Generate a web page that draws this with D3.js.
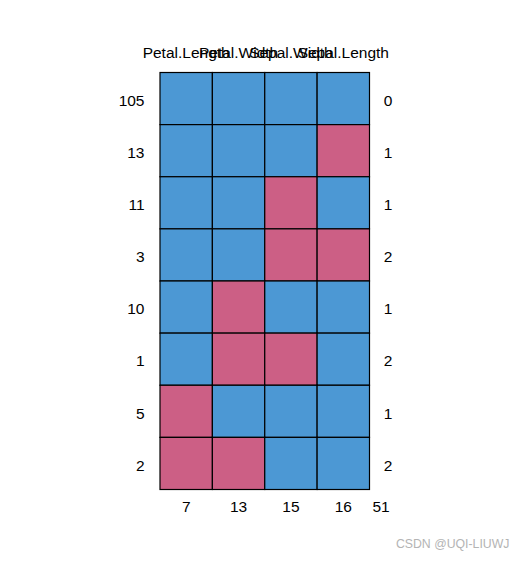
<!DOCTYPE html>
<html>
<head>
<meta charset="utf-8">
<script src="https://cdn.jsdelivr.net/npm/d3@7"></script>
<style>
  html, body { margin: 0; padding: 0; background: #fff; }
  svg { display: block; }
  text { font-family: "Liberation Sans", Arial, sans-serif; }
</style>
</head>
<body>
<svg id="chart" width="530" height="562"></svg>
<script>
// Missing-data pattern of the iris variables
const variables = ["Petal.Length", "Petal.Width", "Sepal.Width", "Sepal.Length"];
const rowCounts = [105, 13, 11, 3, 10, 1, 5, 2];
// 1 = observed, 0 = missing
const patterns = [
  [1, 1, 1, 1],
  [1, 1, 1, 0],
  [1, 1, 0, 1],
  [1, 1, 0, 0],
  [1, 0, 1, 1],
  [1, 0, 0, 1],
  [0, 1, 1, 1],
  [0, 0, 1, 1]
];
const rowMissing = [0, 1, 1, 2, 1, 2, 1, 2];
const colMissing = [7, 13, 15, 16];
const totalMissing = 51;

const svg = d3.select("#chart");
const fontSize = "15.5px";

const x = d3.scaleBand().domain(d3.range(variables.length)).range([160, 369.5]);
const y = d3.scaleBand().domain(d3.range(rowCounts.length)).range([72.5, 489.5]);

const color = v => v === 1 ? "#4c98d4" : "#cc5f85";

// cells
const cells = [];
patterns.forEach((row, i) => row.forEach((v, j) => cells.push({ i, j, v })));
svg.append("g").selectAll("rect").data(cells).join("rect")
  .attr("x", d => x(d.j))
  .attr("y", d => y(d.i))
  .attr("width", x.bandwidth())
  .attr("height", y.bandwidth())
  .attr("fill", d => color(d.v))
  .attr("stroke", "#000")
  .attr("stroke-width", 1.2);

// variable names on top
svg.append("g").selectAll("text").data(variables).join("text")
  .attr("x", (d, j) => x(j) + x.bandwidth() / 2)
  .attr("y", 57.7)
  .attr("text-anchor", "middle")
  .style("font-size", fontSize)
  .text(d => d);

// pattern frequencies on the left
svg.append("g").selectAll("text").data(rowCounts).join("text")
  .attr("x", 144.5)
  .attr("y", (d, i) => y(i) + y.bandwidth() / 2 + 7.3)
  .attr("text-anchor", "end")
  .style("font-size", fontSize)
  .text(d => d);

// number of missing variables per pattern on the right
svg.append("g").selectAll("text").data(rowMissing).join("text")
  .attr("x", 383.8)
  .attr("y", (d, i) => y(i) + y.bandwidth() / 2 + 7.3)
  .attr("text-anchor", "start")
  .style("font-size", fontSize)
  .text(d => d);

// missing counts per variable at the bottom
svg.append("g").selectAll("text").data(colMissing).join("text")
  .attr("x", (d, j) => x(j) + x.bandwidth() / 2)
  .attr("y", 511.7)
  .attr("text-anchor", "middle")
  .style("font-size", fontSize)
  .text(d => d);

svg.append("text")
  .attr("x", 381)
  .attr("y", 511.7)
  .attr("text-anchor", "middle")
  .style("font-size", fontSize)
  .text(totalMissing);

// watermark
svg.append("text")
  .attr("x", 509.5)
  .attr("y", 548.3)
  .attr("text-anchor", "end")
  .attr("fill", "#b4b4b4")
  .style("font-size", "12.3px")
  .text("CSDN @UQI-LIUWJ");
</script>
</body>
</html>
